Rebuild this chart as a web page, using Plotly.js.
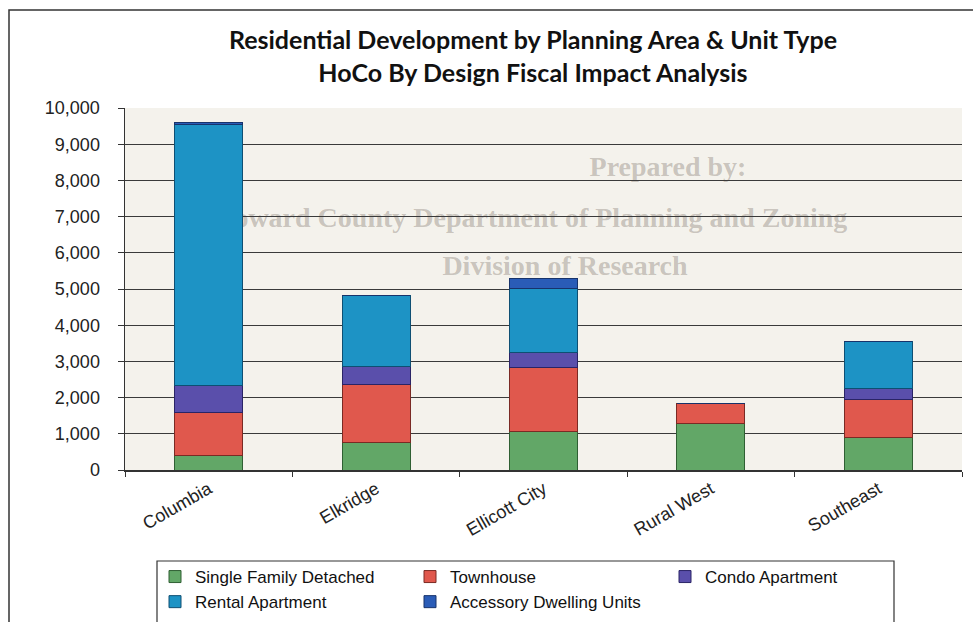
<!DOCTYPE html>
<html>
<head>
<meta charset="utf-8">
<script src="https://cdn.plot.ly/plotly-3.0.1.min.js"></script>
<style>html,body{margin:0;padding:0;background:#fff;}#chart{width:973px;height:622px;}</style>
</head>
<body>
<div id="chart"></div>
<script>
// ---- data ----
var areas = ["Columbia", "Elkridge", "Ellicott City", "Rural West", "Southeast"];
var singleFamilyDetached = [396, 755, 1058, 1271, 903];
var townhouse = [1198, 1602, 1779, 571, 1050];
var condoApartment = [754, 497, 414, 0, 304];
var rentalApartment = [7200, 1961, 1768, 0, 1287];
var accessoryDwellingUnits = [46, 0, 276, 0, 0];
var seriesNames = ["Single Family Detached", "Townhouse", "Condo Apartment", "Rental Apartment", "Accessory Dwelling Units"];
var yTickVals = [0, 1000, 2000, 3000, 4000, 5000, 6000, 7000, 8000, 9000, 10000];

// ---- styling ----
var W = 973, H = 622, L = 125, R = 11, T = 108, B = 152;
var PW = W - L - R, PH = H - T - B;
function px(x) { return (x - L) / PW; }
function py(y) { return (H - B - y) / PH; }

var colors = ["#62a767", "#e0584d", "#5a4fab", "#1d93c5", "#2a5cb7"];
var lines = ["#2f5f33", "#7a2a24", "#2a2466", "#0e4f73", "#17336b"];
var values = [singleFamilyDetached, townhouse, condoApartment, rentalApartment, accessoryDwellingUnits];

var traces = values.map(function (v, i) {
  return {
    type: "bar", x: areas, y: v, name: seriesNames[i],
    marker: { color: colors[i], line: { color: lines[i], width: 1 } },
    hoverinfo: "x+y+name"
  };
});

var wm = "rgba(95,85,75,0.30)";
var wmFont = { family: "Liberation Serif, DejaVu Serif, serif", size: 28, color: wm, weight: "bold" };
function wmShape(text, cx, cy, w) {
  return {
    type: "rect", xref: "x domain", yref: "y domain", layer: "below",
    x0: px(cx - w / 2), x1: px(cx + w / 2), y0: py(cy + 15), y1: py(cy - 15),
    line: { width: 0 }, fillcolor: "rgba(0,0,0,0)",
    label: { text: text, font: wmFont, textposition: "middle center" }
  };
}

var layout = {
  width: W, height: H,
  margin: { l: L, r: R, t: T, b: B, pad: 0 },
  paper_bgcolor: "#ffffff",
  plot_bgcolor: "#f4f2ec",
  barmode: "stack",
  bargap: 0.594,
  showlegend: true,
  title: {
    text: "Residential Development by Planning Area & Unit Type<br>HoCo By Design Fiscal Impact Analysis",
    font: { family: "Lato, Open Sans, sans-serif", size: 25, color: "#111", weight: "bold" },
    x: 533 / W, xanchor: "center", xref: "container",
    y: 1 - 49 / H, yanchor: "top", yref: "container",
    automargin: false
  },
  xaxis: {
    type: "category", automargin: false,
    showline: true, linecolor: "#333", linewidth: 1.5,
    ticks: "outside", tickson: "boundaries", ticklen: 5, tickcolor: "#333",
    tickangle: -30,
    tickfont: { family: "Liberation Sans, Arial, sans-serif", size: 18, color: "#222" },
    showgrid: false
  },
  yaxis: {
    range: [0, 10000], tickvals: yTickVals, tickformat: ",d", automargin: false,
    showline: true, linecolor: "#333", linewidth: 1.5,
    ticks: "outside", ticklen: 6, tickcolor: "#333",
    ticklabelstandoff: 14,
    tickfont: { family: "Liberation Sans, Arial, sans-serif", size: 18, color: "#222" },
    showgrid: true, gridcolor: "#3a3a3a", gridwidth: 1,
    zeroline: false
  },
  legend: {
    orientation: "h",
    xref: "container", yref: "container",
    x: 155 / W, xanchor: "left", y: 1 - 559 / H, yanchor: "top",
    entrywidth: 210, entrywidthmode: "pixels",
    bgcolor: "rgba(0,0,0,0)", borderwidth: 0,
    font: { family: "Liberation Sans, Arial, sans-serif", size: 17, color: "#111" },
    traceorder: "normal", itemwidth: 30, tracegroupgap: 0
  },
  shapes: [
    { type: "rect", xref: "paper", yref: "paper", x0: px(9), x1: px(990), y0: py(650), y1: py(10),
      line: { color: "#333", width: 1.5 }, fillcolor: "rgba(0,0,0,0)", layer: "above" },
    { type: "rect", xref: "paper", yref: "paper", x0: px(157), x1: px(894), y0: py(630), y1: py(561),
      line: { color: "#333", width: 1.2 }, fillcolor: "rgba(0,0,0,0)", layer: "above" },
    wmShape("Prepared by:", 668, 163, 200),
    wmShape("Howard County Department of Planning and Zoning", 530, 214, 820),
    wmShape("Division of Research", 565, 262, 300)
  ]
};

Plotly.newPlot("chart", traces, layout, { displayModeBar: false, staticPlot: true });
</script>
</body>
</html>
